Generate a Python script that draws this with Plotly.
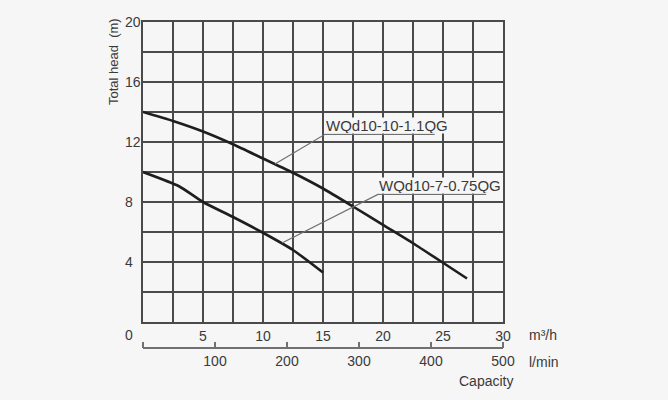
import plotly.graph_objects as go

# ---- data ----
flow_m3h_a = [0, 2.5, 5, 7.5, 10, 12.5, 15, 17.5, 20, 22.5, 25, 27]
head_a = [14.0, 13.4, 12.7, 11.85, 10.9, 9.95, 8.9, 7.7, 6.47, 5.25, 3.95, 2.9]
name_a = "WQd10-10-1.1QG"

flow_m3h_b = [0, 3, 5, 7.5, 10, 12.5, 15]
head_b = [10.0, 9.05, 8.0, 7.0, 5.95, 4.8, 3.3]
name_b = "WQd10-7-0.75QG"

x_grid = [i * 2.5 for i in range(13)]
x_labels = ["" if (v % 5) or v == 0 else str(int(v)) for v in x_grid]
y_grid = [i * 2 for i in range(11)]
y_label_vals = [4, 8, 12, 16, 20]
lmin_ticks = [0, 100, 200, 300, 400, 500]
lmin_labels = ["", "100", "200", "300", "400", "500"]

# label leaders: text anchor, underline end, point on curve
label_a = dict(tx=15.17, ty=13.05, ux=24.3, uy=12.51, cx=11.0, cy=10.53)
label_b = dict(tx=19.58, ty=9.05, ux=28.6, uy=8.51, cx=11.58, cy=5.27)

FONT = "Arial, Liberation Sans, sans-serif"
TXT = "#3a3a3a"
GRID = "#4a4a4a"
AX2 = "#707070"
BG = "#f6f6f6"

fig = go.Figure()
for fx, hy in [(flow_m3h_a, head_a), (flow_m3h_b, head_b)]:
    fig.add_trace(go.Scatter(x=fx, y=hy, mode="lines",
                             line=dict(color="#1e1e1e", width=2.6, shape="spline", smoothing=0.6),
                             hoverinfo="skip", showlegend=False))

for lab in (label_a, label_b):
    fig.add_trace(go.Scatter(x=[lab["cx"], lab["tx"], lab["ux"]], y=[lab["cy"], lab["uy"], lab["uy"]],
                             mode="lines", line=dict(color="#707070", width=1.2),
                             hoverinfo="skip", showlegend=False))

# invisible traces to hold the l/min axes (labels+line, and upward ticks)
fig.add_trace(go.Scatter(x=[0, 500], y=[None, None], xaxis="x2", yaxis="y",
                         mode="lines", showlegend=False, hoverinfo="skip"))
fig.add_trace(go.Scatter(x=[0, 500], y=[None, None], xaxis="x3", yaxis="y",
                         mode="lines", showlegend=False, hoverinfo="skip"))

H = 400
W_PLOT = 360
mt, mb = 22, 22
ph = H - mt - mb


def py(p):
    return (H - mb - p) / ph


def px(p):
    return (p - 143) / W_PLOT


ydom0 = py(322)
x2pos = py(348)

annotations = []
for lab, nm in ((label_a, name_a), (label_b, name_b)):
    annotations.append(dict(x=lab["tx"], y=lab["ty"], xref="x", yref="y", text=nm,
                            showarrow=False, xanchor="left", yanchor="middle", yshift=1,
                            bgcolor=BG, borderpad=0, height=15,
                            font=dict(family=FONT, size=15, color=TXT)))
for v in y_label_vals:
    annotations.append(dict(x=0, y=v, xref="x", yref="y", text=str(v), showarrow=False,
                            xanchor="left", yanchor="middle", xshift=-20,
                            font=dict(family=FONT, size=14, color=TXT)))
annotations.append(dict(x=0, y=py(335), xref="x", yref="paper", text="0", showarrow=False,
                        xanchor="left", yanchor="middle", xshift=-20,
                        font=dict(family=FONT, size=14, color=TXT)))
annotations.append(dict(x=0, y=17.33, xref="x", yref="y", text="Total head  (m)", showarrow=False,
                        textangle=-90, xanchor="center", yanchor="middle", xshift=-30,
                        font=dict(family=FONT, size=13, color=TXT)))
annotations.append(dict(x=px(527), y=py(335), xref="paper", yref="paper", text="m³/h", showarrow=False,
                        xanchor="left", yanchor="middle",
                        font=dict(family=FONT, size=14, color=TXT)))
annotations.append(dict(x=px(527), y=py(362), xref="paper", yref="paper", text="l/min", showarrow=False,
                        xanchor="left", yanchor="middle",
                        font=dict(family=FONT, size=14, color=TXT)))
annotations.append(dict(x=px(486), y=py(381), xref="paper", yref="paper", text="Capacity", showarrow=False,
                        xanchor="center", yanchor="middle",
                        font=dict(family=FONT, size=14, color=TXT)))

fig.update_layout(
    width=668, height=400,
    margin=dict(l=143, r=165, t=mt, b=mb),
    paper_bgcolor=BG, plot_bgcolor=BG,
    xaxis=dict(range=[0, 30], tickvals=x_grid, ticktext=x_labels, showgrid=True,
               gridcolor=GRID, gridwidth=1.6, zeroline=False, showline=True, linecolor=GRID,
               linewidth=2, mirror=True, ticks="", anchor="y",
               tickfont=dict(family=FONT, size=14, color=TXT)),
    yaxis=dict(range=[0, 20], tickvals=y_grid, showticklabels=False, showgrid=True,
               gridcolor=GRID, gridwidth=1.6, zeroline=False, showline=True, linecolor=GRID,
               linewidth=2, mirror=True, ticks="", domain=[ydom0, 1]),
    xaxis2=dict(range=[0, 500], overlaying="x", anchor="free", position=x2pos, side="bottom",
                tickvals=lmin_ticks, ticktext=lmin_labels, showgrid=False, zeroline=False,
                showline=True, linecolor=AX2, linewidth=1.5, ticks="",
                tickfont=dict(family=FONT, size=14, color=TXT)),
    xaxis3=dict(range=[0, 500], overlaying="x", anchor="free", position=x2pos, side="top",
                tickvals=lmin_ticks, showticklabels=False, showgrid=False, zeroline=False,
                showline=False, ticks="outside", ticklen=6, tickwidth=1.5, tickcolor=AX2),
    annotations=annotations,
    showlegend=False,
)

fig.write_html("out.html")
